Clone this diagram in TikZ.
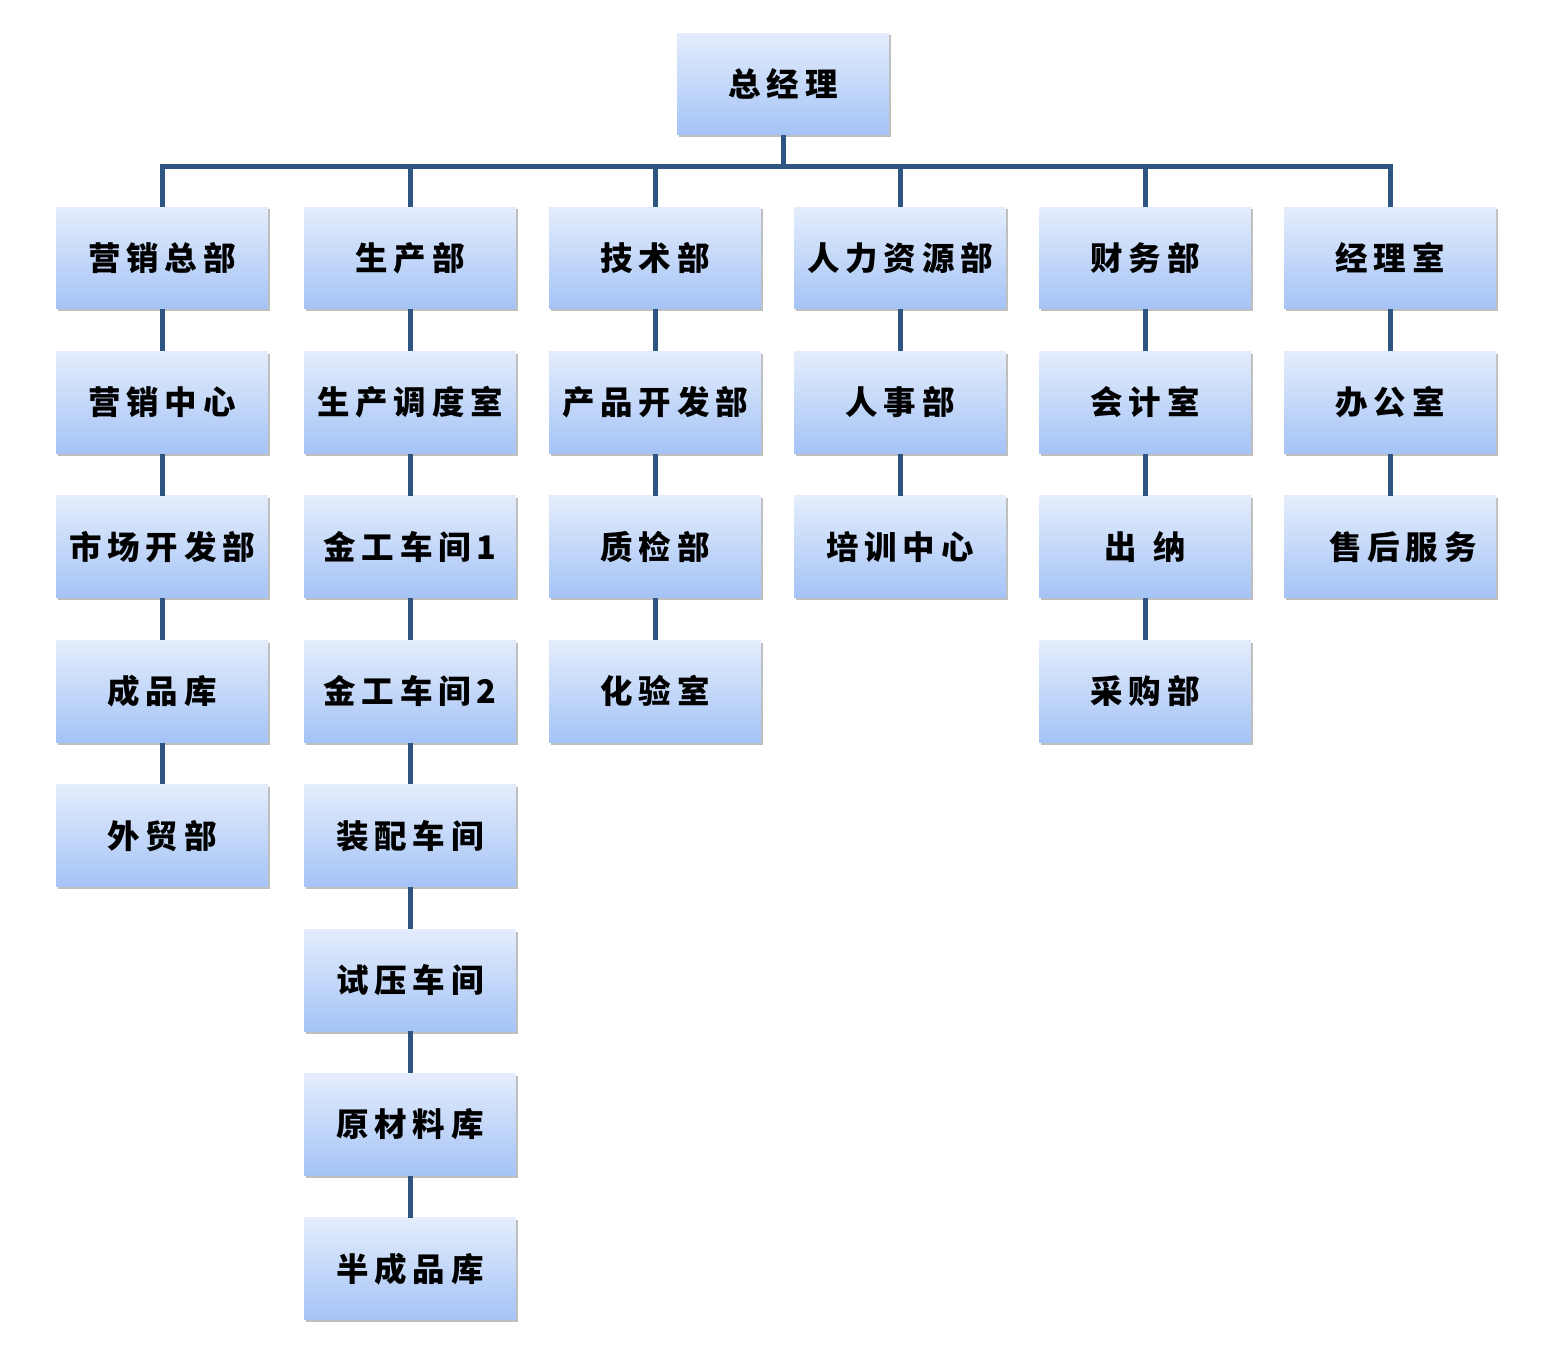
\documentclass[tikz,border=0pt]{standalone}
\usepackage{fontspec}
\newfontfamily\cjk[LetterSpace=18]{Noto Sans CJK SC}
\usetikzlibrary{positioning,shadows}
\definecolor{bus}{RGB}{46,84,130}
\definecolor{boxtop}{RGB}{228,237,252}
\definecolor{boxbottom}{RGB}{164,195,246}
\tikzset{
  unit/.style = {
    minimum width=4.24cm,
    minimum height=2.04cm,
    inner sep=0pt,
    top color=boxtop,
    bottom color=boxbottom,
    drop shadow={shadow xshift=1pt, shadow yshift=-1.4pt, opacity=0.5},
    font=\cjk\bfseries\fontsize{18.5}{20}\selectfont
  },
  link/.style = {draw=bus, line width=0.1cm}
}

\begin{document}
\begin{tikzpicture}[x=0.02cm,y=-0.02cm,node distance=0.835cm]
  \useasboundingbox (0,0) rectangle (1561,1365);
  \node[unit] (g) at (783,84) {总经理};
  \node[unit] (a) at (162,258) {营销总部};
  \node[unit] (b) at (410,258) {生产部};
  \node[unit] (c) at (655,258) {技术部};
  \node[unit] (d) at (900,258) {人力资源部};
  \node[unit] (e) at (1145,258) {财务部};
  \node[unit] (f) at (1390,258) {经理室};

  \node[unit, below=of a] (a1) {营销中心};
  \node[unit, below=of a1] (a2) {市场开发部};
  \node[unit, below=of a2] (a3) {成品库};
  \node[unit, below=of a3] (a4) {外贸部};

  \node[unit, below=of b] (b1) {生产调度室};
  \node[unit, below=of b1] (b2) {金工车间1};
  \node[unit, below=of b2] (b3) {金工车间2};
  \node[unit, below=of b3] (b4) {装配车间};
  \node[unit, below=of b4] (b5) {试压车间};
  \node[unit, below=of b5] (b6) {原材料库};
  \node[unit, below=of b6] (b7) {半成品库};

  \node[unit, below=of c] (c1) {产品开发部};
  \node[unit, below=of c1] (c2) {质检部};
  \node[unit, below=of c2] (c3) {化验室};

  \node[unit, below=of d] (d1) {人事部};
  \node[unit, below=of d1] (d2) {培训中心};

  \node[unit, below=of e] (e1) {会计室};
  \node[unit, below=of e1] (e2) {出\hspace{0.5em}纳};
  \node[unit, below=of e2] (e3) {采购部};

  \node[unit, below=of f] (f1) {办公室};
  \node[unit, below=of f1] (f2) {\hspace*{0.8em}售后服务};

  \coordinate (j) at (783,167);
  \draw[link] (g) -- (j);
  \draw[link] (a) |- (j) -| (f);
  \draw[link] (b) -- (b |- j);
  \draw[link] (c) -- (c |- j);
  \draw[link] (d) -- (d |- j);
  \draw[link] (e) -- (e |- j);

  \draw[link] (a) -- (a1) -- (a2) -- (a3) -- (a4);
  \draw[link] (b) -- (b1) -- (b2) -- (b3) -- (b4) -- (b5) -- (b6) -- (b7);
  \draw[link] (c) -- (c1) -- (c2) -- (c3);
  \draw[link] (d) -- (d1) -- (d2);
  \draw[link] (e) -- (e1) -- (e2) -- (e3);
  \draw[link] (f) -- (f1) -- (f2);
\end{tikzpicture}
\end{document}
